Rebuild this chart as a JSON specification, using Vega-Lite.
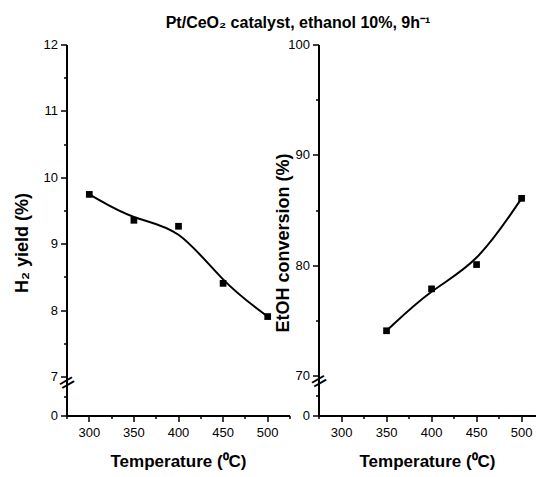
{
  "$schema": "https://vega.github.io/schema/vega-lite/v6.json",
  "padding": {"left": 14, "top": 15, "right": 0, "bottom": 0},
  "background": "white",
  "config": {
    "font": "Liberation Sans",
    "view": {"stroke": null},
    "axis": {
      "domainColor": "#000000", "domainWidth": 2, "tickColor": "#000000", "tickWidth": 1.5, "tickSize": 6, "translate": 0,
      "labelColor": "#000000", "labelFont": "Liberation Sans", "labelFontSize": 13,
      "titleFont": "Liberation Sans", "titleFontSize": 17, "titleFontWeight": "bold", "titleColor": "#000000",
      "grid": false, "labelFlush": false, "labelOverlap": false
    }
  },
  "title": {"text": "Pt/CeO₂ catalyst, ethanol 10%, 9h⁻¹", "font": "Liberation Sans", "fontSize": 16, "fontWeight": "bold", "anchor": "middle", "offset": 8, "color": "black", "dx": 23},
  "bounds": "flush",
  "spacing": 29,
  "hconcat": [
    {
      "width": 223, "height": 371,
      "data": {"values": [
        {"temperature": 300, "h2": 9.75},
        {"temperature": 350, "h2": 9.36},
        {"temperature": 400, "h2": 9.27},
        {"temperature": 450, "h2": 8.41},
        {"temperature": 500, "h2": 7.91}
      ]},
      "resolve": {"axis": {"x": "independent", "y": "independent"}},
      "layer": [
        {
          "mark": {"type": "line", "interpolate": "basis", "color": "black", "strokeWidth": 2},
          "encoding": {
            "x": {"field": "temperature", "type": "quantitative", "scale": {"domain": [275, 525], "nice": false, "zero": false},
              "axis": {"orient": "bottom", "title": "Temperature (⁰C)", "values": [300, 350, 400, 450, 500],
                "domainColor": "#000000", "domainWidth": 2, "tickColor": "#000000", "labelColor": "#000000", "labelFontSize": 13, "tickSize": 6,
                "labelPadding": 5, "titlePadding": 14}},
            "y": {"field": "h2", "type": "quantitative", "scale": {"domain": [0, 7, 12], "range": [371, 332, 0], "nice": false, "zero": false},
              "axis": {"orient": "left", "title": "H₂ yield (%)", "values": [0, 7, 8, 9, 10, 11, 12],
                "domainColor": "#000000", "domainWidth": 2, "tickColor": "#000000", "labelColor": "#000000", "labelFontSize": 13, "tickSize": 6,
                "titleFontSize": 18, "labelPadding": 3, "titleX": -35, "titleY": 198}}
          }
        },
        {
          "mark": {"type": "point", "shape": "square", "filled": true, "color": "black", "size": 45, "opacity": 1},
          "encoding": {
            "x": {"field": "temperature", "type": "quantitative",
              "axis": {"orient": "bottom", "title": null, "labels": false, "domain": false, "values": [275, 325, 375, 425, 475, 525], "tickSize": 3, "tickColor": "#000000"}},
            "y": {"field": "h2", "type": "quantitative",
              "axis": {"orient": "left", "title": null, "labels": false, "domain": false, "values": [3.5, 7.5, 8.5, 9.5, 10.5, 11.5], "tickSize": 3, "tickColor": "#000000"}}
          }
        },
        {
          "data": {"values": [{"symbol": "break"}]},
          "mark": {"type": "text", "text": "=", "angle": -30, "fontSize": 22, "color": "black", "font": "DejaVu Sans"},
          "encoding": {
            "x": {"datum": 275, "type": "quantitative", "axis": null},
            "y": {"datum": 6, "type": "quantitative", "axis": null}
          }
        }
      ]
    },
    {
      "width": 217, "height": 371,
      "data": {"values": [
        {"temperature": 350, "etoh": 74.1},
        {"temperature": 400, "etoh": 77.9},
        {"temperature": 450, "etoh": 80.1},
        {"temperature": 500, "etoh": 86.1}
      ]},
      "resolve": {"axis": {"x": "independent", "y": "independent"}},
      "layer": [
        {
          "mark": {"type": "line", "interpolate": "basis", "color": "black", "strokeWidth": 2},
          "encoding": {
            "x": {"field": "temperature", "type": "quantitative", "scale": {"domain": [275, 516], "nice": false, "zero": false},
              "axis": {"orient": "bottom", "title": "Temperature (⁰C)", "values": [300, 350, 400, 450, 500],
                "domainColor": "#000000", "domainWidth": 2, "tickColor": "#000000", "labelColor": "#000000", "labelFontSize": 13, "tickSize": 6,
                "labelPadding": 5, "titlePadding": 14}},
            "y": {"field": "etoh", "type": "quantitative", "scale": {"domain": [0, 70, 100], "range": [371, 331, 0], "nice": false, "zero": false},
              "axis": {"orient": "left", "title": "EtOH conversion (%)", "values": [0, 70, 80, 90, 100],
                "domainColor": "#000000", "domainWidth": 2, "tickColor": "#000000", "labelColor": "#000000", "labelFontSize": 13, "tickSize": 6,
                "titleFontSize": 18, "labelPadding": 3, "titleX": -26, "titleY": 198}}
          }
        },
        {
          "mark": {"type": "point", "shape": "square", "filled": true, "color": "black", "size": 45, "opacity": 1},
          "encoding": {
            "x": {"field": "temperature", "type": "quantitative",
              "axis": {"orient": "bottom", "title": null, "labels": false, "domain": false, "values": [275, 325, 375, 425, 475], "tickSize": 3, "tickColor": "#000000"}},
            "y": {"field": "etoh", "type": "quantitative",
              "axis": {"orient": "left", "title": null, "labels": false, "domain": false, "values": [35, 75, 85, 95], "tickSize": 3, "tickColor": "#000000"}}
          }
        },
        {
          "data": {"values": [{"symbol": "break"}]},
          "mark": {"type": "text", "text": "=", "angle": -30, "fontSize": 22, "color": "black", "font": "DejaVu Sans"},
          "encoding": {
            "x": {"datum": 275, "type": "quantitative", "axis": null},
            "y": {"datum": 61, "type": "quantitative", "axis": null}
          }
        }
      ]
    }
  ]
}
